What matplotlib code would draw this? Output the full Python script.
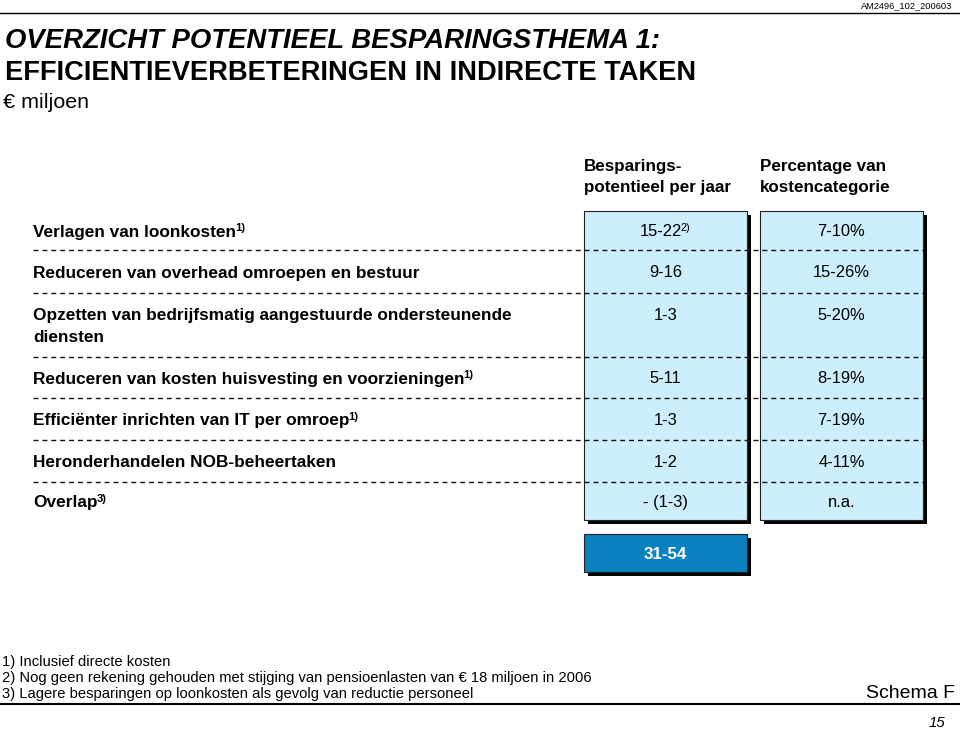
import matplotlib
matplotlib.use("Agg")
import matplotlib.pyplot as plt
from matplotlib.patches import Rectangle
from matplotlib import font_manager

# --- table content ---
row_labels = [
    "Verlagen van loonkosten",
    "Reduceren van overhead omroepen en bestuur",
    "Opzetten van bedrijfsmatig aangestuurde ondersteunende\ndiensten",
    "Reduceren van kosten huisvesting en voorzieningen",
    "Efficiënter inrichten van IT per omroep",
    "Heronderhandelen NOB-beheertaken",
    "Overlap",
]
row_notes = ["1)", "", "", "1)", "1)", "", "3)"]
savings = ["15-22", "9-16", "1-3", "5-11", "1-3", "1-2", "- (1-3)"]
savings_notes = ["2)", "", "", "", "", "", ""]
cost_share = ["7-10%", "15-26%", "5-20%", "8-19%", "7-19%", "4-11%", "n.a."]
total_savings = "31-54"
col_headers = ["Besparings-\npotentieel per jaar", "Percentage van\nkostencategorie"]
footnotes = [
    "1) Inclusief directe kosten",
    "2) Nog geen rekening gehouden met stijging van pensioenlasten van € 18 miljoen in 2006",
    "3) Lagere besparingen op loonkosten als gevolg van reductie personeel",
]

names = {f.name for f in font_manager.fontManager.ttflist}
SANS = 'Liberation Sans'
NARROW = 'Liberation Sans Narrow' if 'Liberation Sans Narrow' in names else SANS
plt.rcParams['font.family'] = [SANS, 'DejaVu Sans']

PT = 0.72  # points per pixel at dpi 100
LIGHT = '#cdeefd'
DARK = '#0a82c0'

fig = plt.figure(figsize=(9.6, 7.3), dpi=100)
ax = fig.add_axes([0, 0, 1, 1])
ax.set_xlim(0, 960)
ax.set_ylim(730, 0)
ax.axis('off')
renderer = fig.canvas.get_renderer()


def put(x, yc, s, px, ha='left', note='', **kw):
    # yc = visual centre of capitals, px = font size in pixels
    base = yc + 0.358 * px
    t = ax.text(x, base, s, fontsize=px * PT, ha='left', va='baseline', **kw)
    if not note:
        t.set_ha(ha)
        return t
    n = ax.text(x, base - 0.3 * px, note, fontsize=px * 0.66 * PT, ha='left', va='baseline', **kw)
    w1 = t.get_window_extent(renderer).width
    w2 = n.get_window_extent(renderer).width
    x0 = x - (w1 + w2) / 2 if ha == 'center' else x
    t.set_x(x0)
    n.set_x(x0 + w1 - 1)
    return t


# header / title
ax.plot([0, 960], [13, 13], color='black', lw=1.0)
put(952, 5, "AM2496_102_200603", 9.3, ha='right')
put(5, 38, "OVERZICHT POTENTIEEL BESPARINGSTHEMA 1:", 27.5, weight='bold', style='italic')
put(5, 70, "EFFICIENTIEVERBETERINGEN IN INDIRECTE TAKEN", 27.3, weight='bold')
put(3, 100, "€ miljoen", 21.5)

# boxes
col_x = [584, 760]
box_w = 163
top, bottom = 211, 520
bounds = [211, 250, 293, 357, 398, 440, 482, 520]
shadow = 4
for cx in col_x:
    ax.add_patch(Rectangle((cx + shadow, top + shadow), box_w, bottom - top, facecolor='black', edgecolor='none', zorder=1))
    ax.add_patch(Rectangle((cx, top), box_w, bottom - top, facecolor=LIGHT, edgecolor='#222222', lw=0.8, zorder=2))

ax.add_patch(Rectangle((col_x[0] + shadow, 534 + shadow), box_w, 38, facecolor='black', edgecolor='none', zorder=1))
ax.add_patch(Rectangle((col_x[0], 534), box_w, 38, facecolor=DARK, edgecolor='#222222', lw=0.8, zorder=2))
put(col_x[0] + box_w / 2, 553, total_savings, 17, ha='center', weight='bold', color='white', zorder=3)

# column headers
for cx, h in zip(col_x, col_headers):
    for j, line in enumerate(h.split('\n')):
        put(cx, 165 + 21 * j, line, 17, weight='bold')

# dashed separators
for b in bounds[1:-1]:
    ax.plot([33, 923], [b, b], color='#111111', lw=1.0, linestyle=(0, (3.6, 2.8)), zorder=3)

# rows
for i in range(len(row_labels)):
    lines = row_labels[i].split('\n')
    mid = (bounds[i] + bounds[i + 1]) / 2
    first = mid - 11 * (len(lines) - 1)
    for j, line in enumerate(lines):
        note = row_notes[i] if j == len(lines) - 1 else ''
        put(33, first + 22 * j, line, 17.2, note=note, weight='bold', zorder=3)
    put(col_x[0] + box_w / 2, first, savings[i], 16.5, ha='center', note=savings_notes[i], zorder=3)
    put(col_x[1] + box_w / 2, first, cost_share[i], 16.5, ha='center', zorder=3)

# footnotes
for k, f in enumerate(footnotes):
    put(2, 661 + 16 * k, f, 14.7, family=NARROW)
put(955, 691, "Schema F", 19.5, ha='right')
ax.plot([0, 960], [704, 704], color='black', lw=1.5)
put(945, 722, "15", 15, ha='right', style='italic')

fig.savefig('out.png', dpi=100)
